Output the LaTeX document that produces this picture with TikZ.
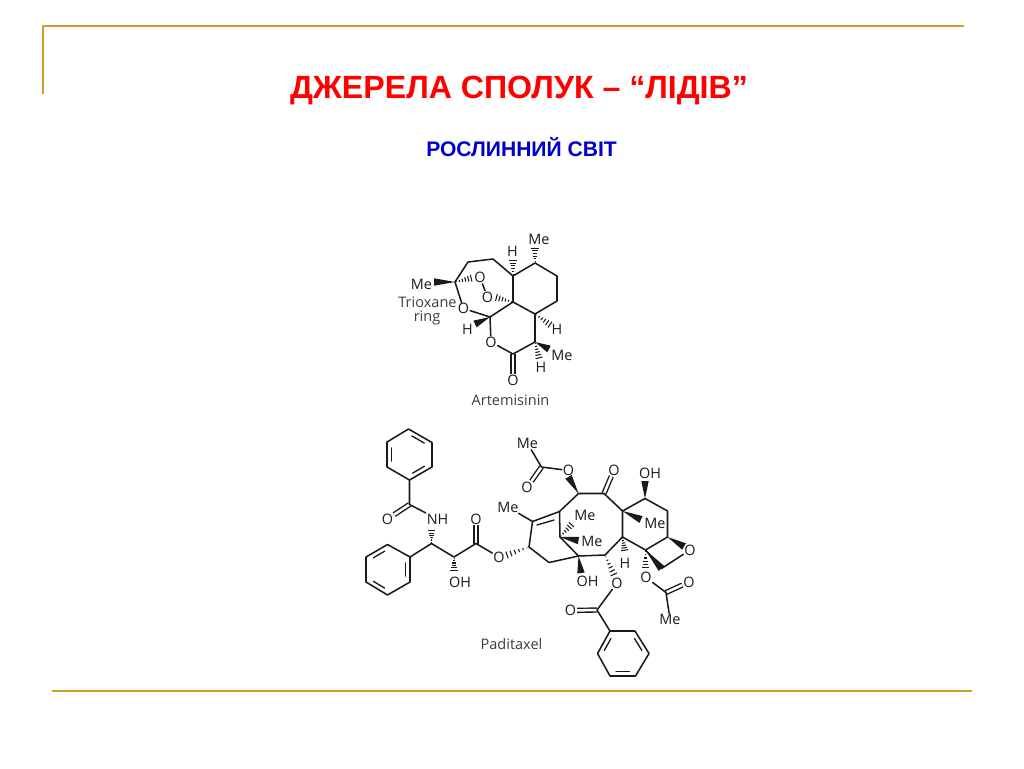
\documentclass[tikz,border=0pt]{standalone}
\usepackage{fontspec}
\setmainfont{Liberation Sans}
\newfontfamily\atomfont{Open Sans}
\usetikzlibrary{calc}
\definecolor{gold}{HTML}{CC9F26}
\definecolor{titlered}{HTML}{FF0000}
\definecolor{subblue}{HTML}{0000CC}
\definecolor{ink}{HTML}{1A1A1A}
\tikzset{
  rule/.style={draw=gold,line width=1.6pt,line cap=butt},
  atom/.style={inner sep=0.6pt,font=\atomfont\fontsize{10.8}{11}\selectfont,text=ink},
  caption/.style={inner sep=0pt,font=\atomfont\fontsize{10.9}{12}\selectfont,text=ink!85,align=center},
  bond/.style={draw=ink,line width=1.15pt,line cap=round,line join=round},
  dbond/.style={draw=ink,line width=1.05pt,double=white,double distance=1.9pt},
  inbond/.style={draw=ink,line width=1pt,line cap=round}
}
% wedge: narrow at #1, wide at #2
\newcommand{\wdg}[2]{\fill[ink] (#1) -- ($(#2)!2.8pt!90:(#1)$) -- ($(#2)!2.8pt!-90:(#1)$) -- cycle;}
\newcommand{\hsh}[2]{\foreach \t in {0.08,0.24,0.40,0.56,0.72,0.88,1.0}{%
  \draw[ink,line width=0.8pt] ($(#1)!\t!(#2)!{\t*3pt}!90:(#2)$) -- ($(#1)!\t!(#2)!{\t*3pt}!-90:(#2)$);}}
\newcommand{\inring}[3]{\draw[inbond] ($(#1)!.17!(#2)!.2!(#3)$) -- ($(#1)!.83!(#2)!.2!(#3)$);}
\begin{document}
\begin{tikzpicture}[x=0.75pt,y=-0.75pt]
\useasboundingbox (0,0) rectangle (1024,768);
\coordinate (tl) at (43,94); \coordinate (tc) at (43,26); \coordinate (tr) at (964,26);
\coordinate (bl) at (52,691); \coordinate (br) at (972,691);
\draw[rule,line join=miter] (tl) -- (tc) -- (tr);
\draw[rule] (bl) -- (br);
\node[inner sep=0pt,text=titlered,font=\bfseries\fontsize{24.1}{27}\selectfont] (title) at (519,90) {ДЖЕРЕЛА СПОЛУК – “ЛІДІВ”};
\node[inner sep=0pt,text=subblue,font=\bfseries\fontsize{15.8}{18}\selectfont] (sub) at (521.5,147.5) {РОСЛИННИЙ СВІТ};

% ---------- Artemisinin ----------
\foreach \n/\x/\y in {a1/455/282,a2/468/262,a3/493/259,a4/513/276,a5/513/302,a6/535/314,a7/557/301,a8/557/276,a9/535/263,a10/535/342,a11/513/354,a12/490/317,
  atMe1/434/282,atH1/475/324,atMe2/549/349,atH2/539.5/360,atH3/552/326,atH4/513/258,atMe3/535/246}{\coordinate (\n) at (\x,\y);}
\node[atom] (aO1) at (480,277.5) {O};
\node[atom] (aO2) at (487.5,297) {O};
\node[atom] (aO3) at (463.5,308.5) {O};
\node[atom] (aO4) at (491,342) {O};
\node[atom] (aO5) at (513,380) {O};
\node[atom] (aMe1) at (421.5,284.5) {Me};
\node[atom] (aMe2) at (539,239.5) {Me};
\node[atom] (aMe3) at (562,355) {Me};
\node[atom] (aH1) at (512.5,251.5) {H};
\node[atom] (aH2) at (467.5,329.5) {H};
\node[atom] (aH3) at (557,329) {H};
\node[atom] (aH4) at (541,367) {H};
\node[caption] (trx) at (427.5,302.5) {Trioxane};
\node[caption] (rng) at (427,317.5) {ring};
\node[caption] (art) at (510.5,400.5) {Artemisinin};
\draw[dbond] (a11) -- (aO5);
\draw[bond] (a1) -- (a2) -- (a3) -- (a4) -- (a5) -- (a6) -- (a7) -- (a8) -- (a9) -- (a4);
\draw[bond] (a6) -- (a10) -- (a11) -- (aO4) -- (a12) -- (a5);
\draw[bond] (a12) -- (aO3) -- (a1);
\draw[bond] (aO1) -- (aO2);
\hsh{a1}{aO1.west}
\hsh{a5}{aO2.east}
\wdg{a1}{atMe1}
\wdg{a12}{atH1}
\wdg{a10}{atMe2}
\hsh{a10}{atH2}
\hsh{a6}{atH3}
\hsh{a4}{atH4}
\hsh{a9}{atMe3}

% ---------- Paclitaxel: side chain ----------
\foreach \n/\x/\y in {b1/408.5/429,b2/432/442.5,b3/432/467,b4/409.5/480,b5/387/467,b6/387/442,
  bc/409.5/504.5,ch1/431.5/543.5,d1/410/557,d2/410/582,d3/387.5/595,d4/366/582,d5/366/557,d6/387.5/544.5,
  ch2/454/557,cc/476/543.5,bcen/409.5/454.5,dcen/388/569.5,tNH/431.5/529,tOH/454/572}{\coordinate (\n) at (\x,\y);}
\node[atom] (pO1) at (387.5,519) {O};
\node[atom] (pNH) at (437.5,519) {NH};
\node[atom] (pOH1) at (460,582.5) {OH};
\node[atom] (pO2) at (476,519) {O};
\node[atom] (pO3) at (499,557) {O};
\draw[dbond] (bc) -- (pO1);
\draw[dbond] (cc) -- (pO2);
\draw[bond] (b1) -- (b2) -- (b3) -- (b4) -- (b5) -- (b6) -- cycle;
\inring{b1}{b2}{bcen}\inring{b3}{b4}{bcen}\inring{b5}{b6}{bcen}
\draw[bond] (b4) -- (bc) -- (pNH);
\draw[bond] (d1) -- (d2) -- (d3) -- (d4) -- (d5) -- (d6) -- cycle;
\inring{d1}{d2}{dcen}\inring{d3}{d4}{dcen}\inring{d5}{d6}{dcen}
\draw[bond] (d1) -- (ch1) -- (ch2) -- (cc) -- (pO3);
\hsh{ch1}{tNH}
\hsh{ch2}{tOH}

% ---------- Paclitaxel: core ----------
\foreach \n/\x/\y in {e1/529/547,e2/532.5/521.5,e3/559.5/511.5,e4/578.5/493.5,e5/604/493.5,e6/622.5/511,e7/645/498.5,e8/667.5/511,e9/667.5/537,
  e10/645.5/550,e11/622.5/537,e12/605/555,e13/578.5/556,e14/560/537,e15/549/562.5,e16/661.5/568.5,eac/541.5/467,
  ft2/645/481,ft3/641/519.5,ft4/573/523,ft5/578.5/540.5,ft6/684/546.5,ft7/581/573,
  ft8/625/552,ft9/615/577,ft10/645.5/570,ft11/504/556,dbA/537/525,dbB/554/520}{\coordinate (\n) at (\x,\y);}
\node[atom] (qMe1) at (527.5,443.5) {Me};
\node[atom] (qO1) at (527,487.5) {O};
\node[atom] (qO2) at (568.5,470.5) {O};
\node[atom] (qO3) at (614,470) {O};
\node[atom] (qOH1) at (650,473.5) {OH};
\node[atom] (qMe2) at (508,507) {Me};
\node[atom] (qMe3) at (585,515.5) {Me};
\node[atom] (qMe4) at (592,541) {Me};
\node[atom] (qMe5) at (655,523.5) {Me};
\node[atom] (qO4) at (690,550) {O};
\node[atom] (qH) at (625,563.5) {H};
\node[atom] (qOH2) at (587.5,581.5) {OH};
\node[atom] (qO5) at (617,583) {O};
\node[atom] (qO6) at (646,577.5) {O};
\draw[dbond] (eac) -- (qO1);
\draw[dbond] (e5) -- (qO3);
\draw[bond] (qMe1) -- (eac) -- (qO2);
\draw[bond] (e1) -- (e2) -- (e3) -- (e4) -- (e5) -- (e6) -- (e7) -- (e8) -- (e9) -- (e10) -- (e11) -- (e6);
\draw[bond] (e11) -- (e12) -- (e13) -- (e14) -- (e3);
\draw[bond] (e1) -- (e15) -- (e13);
\draw[bond] (e2) -- (qMe2);
\draw[bond] (e10) -- (e16) -- (qO4);
\draw[inbond] (dbA) -- (dbB);
\wdg{e4}{qO2.south}
\wdg{e7}{ft2}
\wdg{e6}{ft3}
\wdg{e14}{ft5}
\hsh{e14}{ft4}
\wdg{e9}{ft6}
\wdg{e10}{e16}
\wdg{e13}{ft7}
\hsh{e11}{ft8}
\hsh{e12}{ft9}
\hsh{e10}{ft10}
\hsh{e1}{ft11}

% ---------- Paclitaxel: lower esters ----------
\foreach \n/\x/\y in {g1/666/592.5,h1/597/610,r1/610/631,r2/635/631,r3/649/653.5,r4/635.5/676,r5/610/676,r6/597.5/653.5,rcen/623/653.5}{\coordinate (\n) at (\x,\y);}
\node[atom] (sO1) at (689,582) {O};
\node[atom] (sMe) at (670,619.5) {Me};
\node[atom] (sO2) at (570.5,610.5) {O};
\node[caption] (pad) at (511.5,644) {Paditaxel};
\draw[dbond] (g1) -- (sO1);
\draw[dbond] (h1) -- (sO2);
\draw[bond] (qO6) -- (g1) -- (sMe);
\draw[bond] (qO5) -- (h1) -- (r1);
\draw[bond] (r1) -- (r2) -- (r3) -- (r4) -- (r5) -- (r6) -- cycle;
\inring{r2}{r3}{rcen}\inring{r4}{r5}{rcen}\inring{r6}{r1}{rcen}
\end{tikzpicture}
\end{document}
